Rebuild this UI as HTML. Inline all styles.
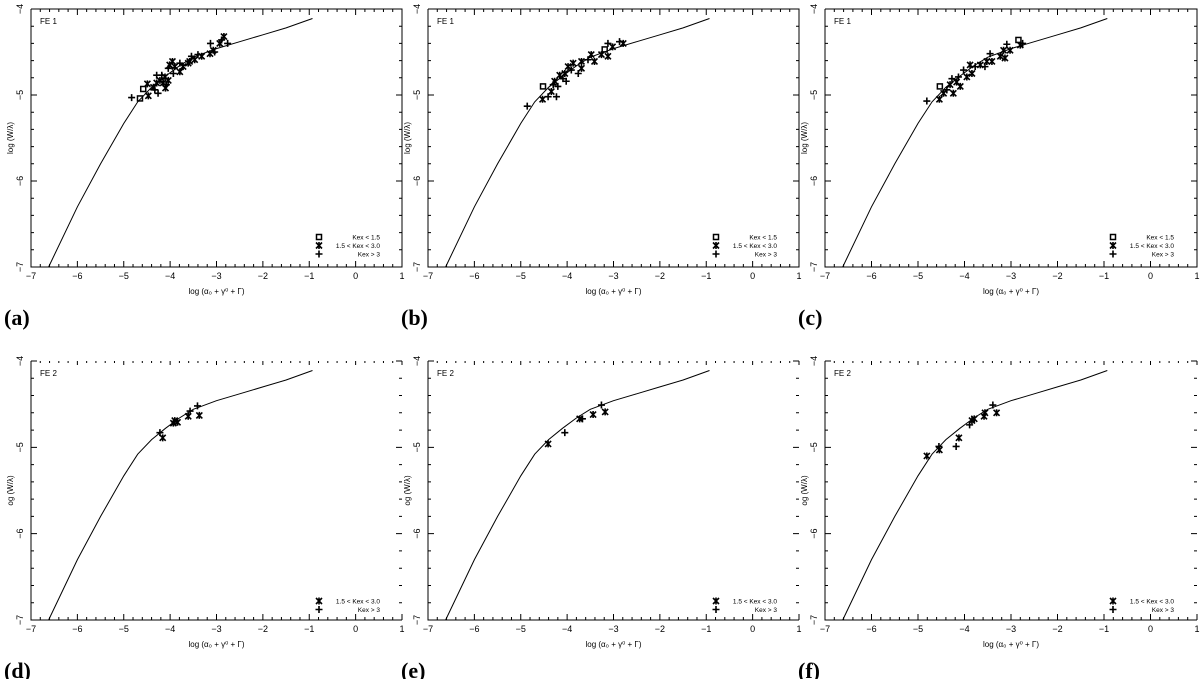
<!DOCTYPE html>
<html><head><meta charset="utf-8"><style>
html,body{margin:0;padding:0;background:#fff;}
svg{display:block;font-family:"Liberation Sans",sans-serif;}
</style></head><body>
<svg id="fig" width="1200" height="679" viewBox="0 0 1200 679" xmlns="http://www.w3.org/2000/svg"></svg>
<script>
// theoretical curve of growth (x,y)
const curveX = [-6.62,-6.0,-5.5,-5.0,-4.7,-4.4,-4.1,-3.8,-3.5,-3.0,-2.5,-2.0,-1.5,-0.93];
const curveY = [-7.0,-6.3,-5.8,-5.33,-5.08,-4.91,-4.78,-4.66,-4.56,-4.46,-4.38,-4.3,-4.22,-4.11];
const xTicks = [-7,-6,-5,-4,-3,-2,-1,0,1];
const yTicks = [-4,-5,-6,-7];
const xTickLabels = ["−7","−6","−5","−4","−3","−2","−1","0","1"];
const yTickLabels = ["−4","−5","−6","−7"];
const panelLetters = ["(a)","(b)","(c)","(d)","(e)","(f)"];
const panelTitles = ["FE 1","FE 1","FE 1","FE 2","FE 2","FE 2"];
// points: x values, y values, type (s=Kex<1.5, x=1.5<Kex<3, p=Kex>3)
const aX=[-4.83,-4.65,-4.58,-4.49,-4.47,-4.36,-4.33,-4.29,-4.29,-4.22,-4.18,-4.15,-4.11,-4.08,-4.04,-4.04,-4.01,-3.95,-3.93,-3.90,-3.79,-3.79,-3.72,-3.58,-3.54,-3.47,-3.40,-3.32,-3.14,-3.13,-3.07,-2.93,-2.89,-2.84,-2.76,-3.04,-3.61,-4.10,-4.26];
const aY=[-5.03,-5.04,-4.93,-4.87,-5.01,-4.91,-4.94,-4.86,-4.77,-4.83,-4.77,-4.86,-4.79,-4.88,-4.83,-4.69,-4.65,-4.61,-4.75,-4.67,-4.63,-4.73,-4.67,-4.61,-4.55,-4.59,-4.53,-4.55,-4.52,-4.40,-4.48,-4.40,-4.36,-4.32,-4.40,-4.50,-4.63,-4.92,-4.98];
const aT="pssxxxpxpxpxxpxpxxpxpxxxpxpxxpxxpxppxxp";
const bX=[-4.86,-4.52,-4.53,-4.41,-4.34,-4.30,-4.27,-4.20,-4.16,-4.09,-4.05,-4.02,-3.98,-3.91,-3.87,-3.76,-3.69,-3.69,-3.55,-3.48,-3.41,-3.26,-3.19,-3.12,-3.12,-3.02,-2.87,-2.79,-4.23];
const bY=[-5.13,-4.90,-5.05,-5.02,-4.96,-4.88,-4.84,-4.90,-4.77,-4.81,-4.75,-4.84,-4.67,-4.71,-4.63,-4.75,-4.69,-4.61,-4.59,-4.53,-4.61,-4.53,-4.47,-4.55,-4.40,-4.44,-4.38,-4.40,-5.02];
const bT="psxpxpxpxpxpxpxpxxpxxxsxpxpxp";
const cX=[-4.81,-4.54,-4.53,-4.45,-4.38,-4.31,-4.27,-4.24,-4.17,-4.13,-4.09,-4.02,-3.95,-3.88,-3.84,-3.77,-3.66,-3.56,-3.52,-3.45,-3.41,-3.23,-3.13,-3.09,-3.02,-2.84,-2.80,-2.75,-3.16];
const cY=[-5.07,-5.05,-4.90,-4.98,-4.94,-4.88,-4.81,-4.98,-4.85,-4.79,-4.90,-4.71,-4.79,-4.65,-4.75,-4.67,-4.65,-4.67,-4.61,-4.52,-4.61,-4.55,-4.57,-4.41,-4.48,-4.36,-4.42,-4.40,-4.48];
const cT="pxsxpxpxxpxpxxxpxpxpxxxpxsxpx";
const dX=[-4.22,-4.16,-3.93,-3.90,-3.84,-3.61,-3.57,-3.41,-3.37];
const dY=[-4.83,-4.89,-4.72,-4.69,-4.71,-4.64,-4.58,-4.52,-4.63];
const dT="pxxxxxppx";
const eX=[-4.41,-4.05,-3.73,-3.67,-3.44,-3.26,-3.18];
const eY=[-4.96,-4.83,-4.67,-4.67,-4.62,-4.51,-4.59];
const eT="xpxpxpx";
const fX=[-4.81,-4.55,-4.54,-4.18,-4.12,-3.89,-3.84,-3.79,-3.58,-3.56,-3.39,-3.31];
const fY=[-5.10,-4.99,-5.03,-4.99,-4.89,-4.74,-4.69,-4.67,-4.64,-4.60,-4.51,-4.60];
const fT="xpxpxpxxxxpx";
const panelXs=[aX,bX,cX,dX,eX,fX];
const panelYs=[aY,bY,cY,dY,eY,fY];
const panelTs=[aT,bT,cT,dT,eT,fT];

const NS="http://www.w3.org/2000/svg";
const svg=document.getElementById('fig');
function mk(tag,attrs,parent){const e=document.createElementNS(NS,tag);for(const k in attrs)e.setAttribute(k,attrs[k]);(parent||svg).appendChild(e);return e;}
const boxes=[[31,402,9,267],[428,799,9,267],[825,1197,9,267],[31,402,361,620],[428,799,361,620],[825,1197,361,620]];
boxes.forEach((b,i)=>{
  const [L,R,T,B]=b; const top=i<3;
  const g=mk('g',{});
  
  
  const sx=v=>L+(v+7)/8*(R-L);
  const sy=v=>T+(-4-v)/3*(B-T);
  const st={stroke:'#000','stroke-width':1,fill:'none'};
  const ax=mk('path',Object.assign({d:`M${L},${T}V${B}H${R}`+(top?`V${T}H${L}`:'')},st),g);
  
  
  let d='';
  for(let k=0;k<=40;k++){const v=-7+k*0.2;const x=sx(v);const maj=k%5==0;const len=maj?6:3;
    d+=`M${x},${B}v${-len}`; d+=top?`M${x},${T}v${len}`:`M${x},${T}v${maj?4:2}`;}
  for(let k=0;k<=15;k++){const v=-4-k*0.2;const y=sy(v);const maj=k%5==0;const len=maj?6:3;
    d+=`M${L},${y}h${len}M${R},${y}h${-len}`;}
  const tk=mk('path',Object.assign({d:d},st),g);
  
  
  xTicks.forEach((v,j)=>{const t=mk('text',{x:sx(v),y:B+12,'font-size':9,'text-anchor':'middle'},g);t.textContent=xTickLabels[j];
    
    });
  yTicks.forEach((v,j)=>{const y=sy(v);const t=mk('text',{x:0,y:0,'font-size':9,'text-anchor':'middle',transform:`translate(${L-8},${y}) rotate(-90)`},g);t.textContent=yTickLabels[j];
    
    });
  const yl=mk('text',{x:0,y:0,'font-size':8,'text-anchor':'middle',transform:`translate(${L-18},${(T+B)/2}) rotate(-90)`},g);
  yl.textContent=top?'log (W/λ)':'og (W/λ)';
  
  
  const xl=mk('text',{x:sx(-3),y:B+27,'font-size':8,'text-anchor':'middle'},g);
  xl.textContent='log (α₀ + γ⁰ + Γ)';
  
  
  const tt=mk('text',{x:L+9,y:T+15,'font-size':8},g);tt.textContent=panelTitles[i];
  
  
  const pl=mk('text',{x:L-27,y:B+58,'font-size':22,'font-weight':'bold','font-family':'Liberation Serif, serif'},g);pl.textContent=panelLetters[i];
  
  
  let cd='';curveX.forEach((v,j)=>{cd+=(j?'L':'M')+sx(v).toFixed(1)+','+sy(curveY[j]).toFixed(1);});
  const cv=mk('path',Object.assign({d:cd},st),g);
  
  
  const xs=panelXs[i],ys=panelYs[i],ts=panelTs[i];
  function marker(x,y,t,parent){
    let p;
    if(t==='s'){p=mk('rect',{x:x-2.5,y:y-2.5,width:5,height:5,stroke:'#000','stroke-width':1.5,fill:'none'},parent);}
    else if(t==='x'){p=mk('path',{d:`M${x-3},${y-3}L${x+3},${y+3}M${x-3},${y+3}L${x+3},${y-3}M${x},${y-3.5}V${y+3.5}`,stroke:'#000','stroke-width':1.6,fill:'none'},parent);}
    else {p=mk('path',{d:`M${x-3.5},${y}H${x+3.5}M${x},${y-3.5}V${y+3.5}`,stroke:'#000','stroke-width':1.6,fill:'none'},parent);}
    return p;
  }
  xs.forEach((v,j)=>{const p=marker(sx(v),sy(ys[j]),ts[j],g);
    
    });
  const lx=L+288, lg=mk('g',{},g);
  
  
  const entries = top?[['s','Kex < 1.5'],['x','1.5 < Kex < 3.0'],['p','Kex > 3']]:[['x','1.5 < Kex < 3.0'],['p','Kex > 3']];
  const ly0 = top? B-30 : B-19;
  entries.forEach((en,j)=>{const y=ly0+j*8.5;marker(lx,y,en[0],lg);
    const t=mk('text',{x:lx+61,y:y+2.5,'font-size':6.5,'text-anchor':'end'},lg);t.textContent=en[1];
    
    });
});
</script>
</body></html>
